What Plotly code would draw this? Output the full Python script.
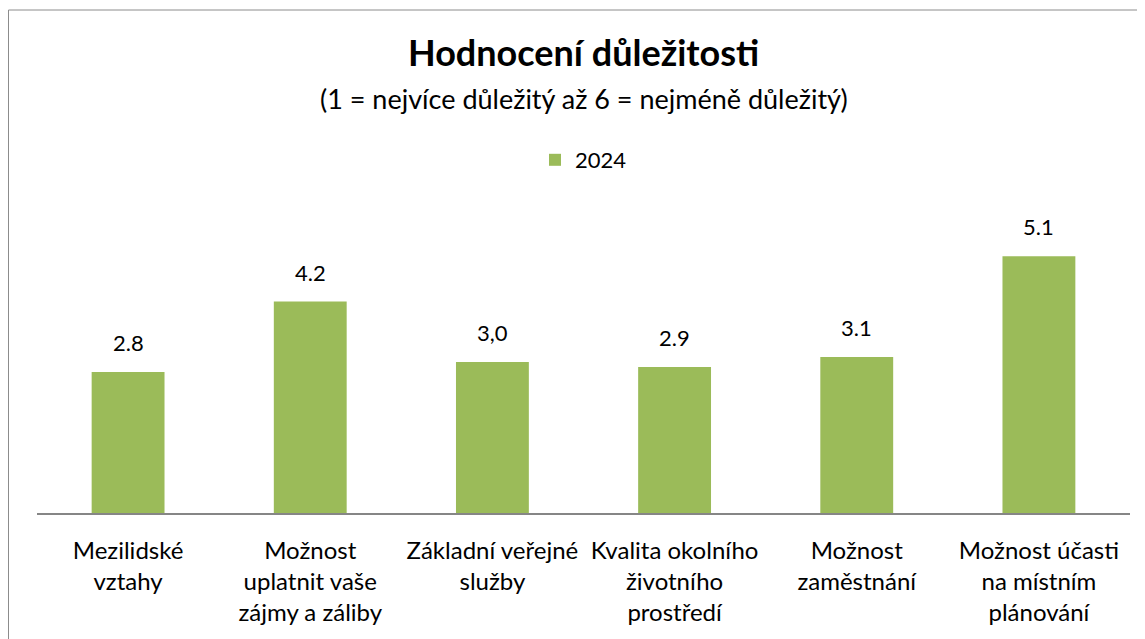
import plotly.graph_objects as go

categories = [
    "Mezilidské<br>vztahy",
    "Možnost<br>uplatnit vaše<br>zájmy a záliby",
    "Základní veřejné<br>služby",
    "Kvalita okolního<br>životního<br>prostředí",
    "Možnost<br>zaměstnání",
    "Možnost účasti<br>na místním<br>plánování",
]
values_2024 = [2.8, 4.2, 3.0, 2.9, 3.1, 5.1]
value_labels = ["2.8", "4.2", "3,0", "2.9", "3.1", "5.1"]
series_name = "2024"

FONT = "Lato, 'Open Sans', sans-serif"
GREEN = "#9BBB59"

fig = go.Figure()
fig.add_trace(go.Bar(
    x=categories, y=values_2024, name=series_name,
    marker=dict(color=GREEN, line=dict(width=0)),
    width=0.4, showlegend=True,
))

annotations = []
for c, v, t in zip(categories, values_2024, value_labels):
    annotations.append(dict(x=c, y=v, xref="x", yref="y", text=t, showarrow=False,
                            yanchor="bottom", yshift=14,
                            font=dict(family=FONT, size=22, color="#000000")))

# page body adds an 8px offset; positions below are in figure coordinates
L, R, T, B = 29, 1122, 203, 505
W = R - L
H = B - T

annotations.append(dict(x=0.5, y=(B - 44) / H, xref="paper", yref="paper",
                        text="<b>Hodnocení důležitosti</b>", showarrow=False,
                        xanchor="center", yanchor="middle",
                        font=dict(family=FONT, size=36, color="#000000")))
annotations.append(dict(x=0.5, y=(B - 90) / H, xref="paper", yref="paper",
                        text="(1 = nejvíce důležitý až 6 = nejméně důležitý)", showarrow=False,
                        xanchor="center", yanchor="middle",
                        font=dict(family=FONT, size=27, color="#000000")))

fig.update_layout(
    width=1145, height=639,
    margin=dict(l=L, r=1145 - R, t=T, b=639 - B, autoexpand=False),
    paper_bgcolor="white", plot_bgcolor="white",
    font=dict(family=FONT, size=24, color="#000000"),
    showlegend=True,
    legend=dict(orientation="h", x=0.5, xanchor="center", y=(B - 152) / H, yanchor="middle",
                font=dict(family=FONT, size=22, color="#000000"),
                bgcolor="rgba(0,0,0,0)"),
    bargap=0.6,
    annotations=annotations,
    shapes=[dict(type="rect", xref="paper", yref="paper",
                 x0=(0.5 - L) / W, x1=(1300 - L) / W,
                 y0=(B - 700) / H, y1=(B - 2) / H,
                 line=dict(color="#8c8c8c", width=1), fillcolor="rgba(0,0,0,0)", layer="below")],
)
fig.update_xaxes(showline=True, linecolor="#868686", linewidth=1.5, showgrid=False,
                 ticks="", tickfont=dict(family=FONT, size=24, color="#000000"),
                 ticklabelstandoff=15)
fig.update_yaxes(range=[0, 6], visible=False, showgrid=False, zeroline=False)

fig.write_html("out.html")
